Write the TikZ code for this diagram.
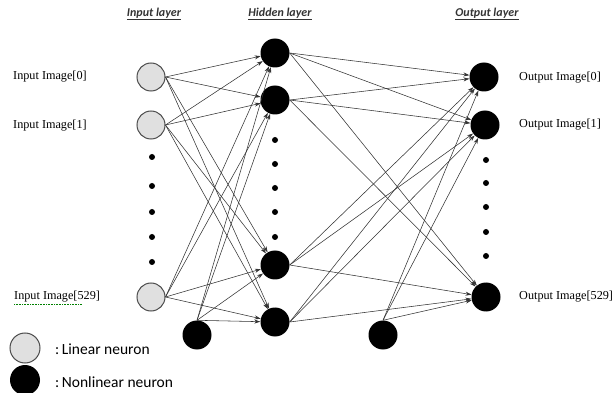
\documentclass[tikz,border=0pt]{standalone}
\usepackage{fontspec}
\setmainfont{Liberation Serif}
\newfontfamily\legendfont{Carlito}
\usetikzlibrary{arrows.meta}
\begin{document}
\begin{tikzpicture}[x=1pt,y=-1pt,
  linear/.style={circle,draw=black!70,line width=1pt,fill=black!12,inner sep=0pt,minimum size=28pt},
  nonlinear/.style={circle,fill=black,inner sep=0pt,minimum size=29pt},
  dotmark/.style={circle,fill=black,inner sep=0pt,minimum size=6pt},
  layertitle/.style={font=\legendfont\fontsize{12}{14}\selectfont\bfseries\itshape,text=black!80},
  imglabel/.style={anchor=west,font=\fontsize{12.2}{14}\selectfont,inner sep=0pt},
  legendtext/.style={anchor=west,font=\legendfont\fontsize{15.5}{17}\selectfont,inner sep=0pt},
  link/.style={draw=black!80,line width=0.55pt,-{Stealth[length=6pt,width=4pt]}}]
\useasboundingbox (0,0) rectangle (614,393);

% layer titles
\node[layertitle] (tin)  at (154,14) {\underline{Input layer}};
\node[layertitle] (thid) at (280,14) {\underline{Hidden layer}};
\node[layertitle] (tout) at (487,14) {\underline{Output layer}};

% input layer
\node[linear] (i0) at (151,77) {};
\node[linear] (i1) at (151,125) {};
\node[linear] (i2) at (151,297) {};
\node[nonlinear] (b1) at (197,335) {};
\foreach \y [count=\k] in {157,186,212,237,262}
  \node[dotmark] (di\k) at (152,\y) {};

% hidden layer
\node[nonlinear] (h0) at (275,53) {};
\node[nonlinear] (h1) at (275,100) {};
\node[nonlinear] (h2) at (275,265) {};
\node[nonlinear] (h3) at (275,322) {};
\node[nonlinear] (b2) at (383,335) {};
\foreach \y [count=\k] in {140,164,188,212,237}
  \node[dotmark] (dh\k) at (275,\y) {};

% output layer
\node[nonlinear] (o0) at (484,77) {};
\node[nonlinear] (o1) at (485,125) {};
\node[nonlinear] (o2) at (486,297) {};
\foreach \y [count=\k] in {160,183,207,232,256}
  \node[dotmark] (do\k) at (486,\y) {};

% input -> hidden
\foreach \s in {i0,i1,i2}
  \foreach \t in {h0,h1,h2,h3}
    \draw[link] (\s.east) -- (\t);
\foreach \t in {h0,h1,h2,h3}
  \draw[link] (b1.north) -- (\t);

% hidden -> output
\foreach \s in {h0,h1,h2,h3}
  \foreach \t in {o0,o1,o2}
    \draw[link] (\s.east) -- (\t);
\foreach \t in {o0,o1,o2}
  \draw[link] (b2.north) -- (\t);

% image labels
\node[imglabel] (li0) at (13,77) {Input Image[0]};
\node[imglabel] (li1) at (13,126) {Input Image[1]};
\node[imglabel] (li2) at (14,297) {Input Image[529]};
\draw[green!50!black,line width=0.6pt,densely dotted] (li2.south west) ++(0,1.5) -- ++(68,0);
\node[imglabel] (lo0) at (519,78) {Output Image[0]};
\node[imglabel] (lo1) at (519,125) {Output Image[1]};
\node[imglabel] (lo2) at (519,297) {Output Image[529]};

% legend
\node[linear,minimum size=30pt] (klin) at (25,348) {};
\node[nonlinear,minimum size=30pt] (knon) at (25,380) {};
\node[legendtext] (tlin) at (55,349) {:\,Linear neuron};
\node[legendtext] (tnon) at (55,382) {:\,Nonlinear neuron};
\end{tikzpicture}
\end{document}
